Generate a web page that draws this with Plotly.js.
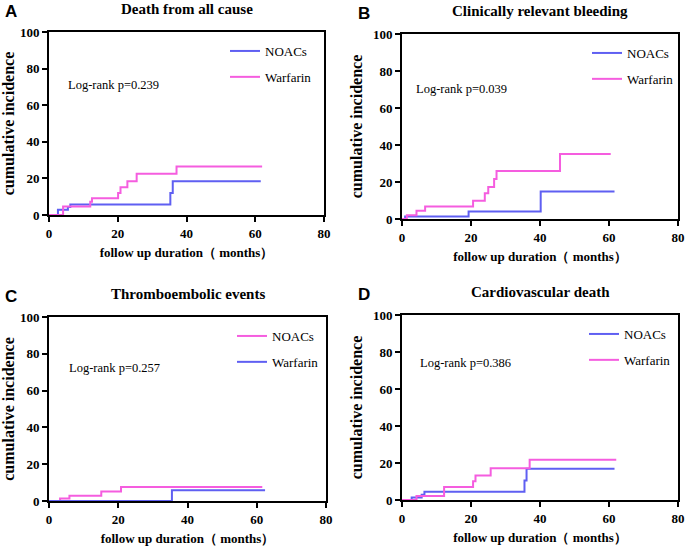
<!DOCTYPE html>
<html>
<head>
<meta charset="utf-8">
<script src="https://cdn.plot.ly/plotly-3.0.1.min.js"></script>
<style>
  html, body { margin: 0; padding: 0; background: #fff; }
  #plot { width: 685px; height: 547px; }
</style>
</head>
<body>
<div id="plot"></div>
<script>
// step-curve data (months, cumulative incidence %)

// A - Death from all cause
var aNoacT = [0, 2.6, 5.5, 6.2, 35.3, 36.0, 61.6];
var aNoacY = [0, 2.9, 4.4, 5.8, 12.0, 18.4, 18.4];
var aWarT = [0, 4.1, 12.0, 12.5, 20.1, 20.8, 22.8, 25.5, 37.1, 62.0];
var aWarY = [0, 4.7, 7.3, 9.1, 12.0, 15.1, 18.4, 22.5, 26.5, 26.5];

// B - Clinically relevant bleeding
var bNoacT = [0, 0.9, 19.3, 40.2, 61.6];
var bNoacY = [0, 1.3, 4.1, 14.8, 14.8];
var bWarT = [0, 1.4, 4.2, 6.7, 20.6, 24.0, 25.0, 26.7, 27.4, 45.8, 60.5];
var bWarY = [0, 2.0, 4.5, 6.7, 9.9, 13.9, 17.3, 21.6, 25.9, 35.1, 35.1];

// C - Thromboembolic events (legend colours swapped in the original)
var cNoacT = [0, 3.2, 5.9, 15.1, 20.8, 61.6];
var cNoacY = [0, 1.3, 2.9, 5.1, 7.6, 7.6];
var cWarT = [0, 35.5, 62.4];
var cWarY = [0, 5.8, 5.8];

// D - Cardiovascular death
var dNoacT = [0, 2.8, 5.7, 6.5, 35.5, 36.1, 61.6];
var dNoacY = [0, 1.3, 2.9, 4.5, 10.5, 16.9, 16.9];
var dWarT = [0, 4.2, 12.2, 20.6, 21.3, 25.7, 37.0, 62.1];
var dWarY = [0, 2.2, 7.0, 10.1, 13.2, 17.1, 21.8, 21.8];

var panelTitles = ["Death from all cause", "Clinically relevant bleeding", "Thromboembolic events", "Cardiovascular death"];
var panelLetters = ["A", "B", "C", "D"];
var pValues = ["Log-rank p=0.239", "Log-rank p=0.039", "Log-rank p=0.257", "Log-rank p=0.386"];

var blue = "#5f5ff2";
var pink = "#f55ddf";
var serif = "Liberation Serif";

function curve(t, y, name, color, n) {
  var sfx = n === 1 ? "" : String(n);
  return {
    x: t, y: y, name: name,
    type: "scatter", mode: "lines",
    line: {shape: "hv", color: color, width: 2},
    xaxis: "x" + sfx, yaxis: "y" + sfx,
    legend: "legend" + sfx,
    legendgroup: name + n
  };
}

var data = [
  curve(aNoacT, aNoacY, "NOACs", blue, 1),
  curve(aWarT, aWarY, "Warfarin", pink, 1),
  curve(bNoacT, bNoacY, "NOACs", blue, 2),
  curve(bWarT, bWarY, "Warfarin", pink, 2),
  curve(cNoacT, cNoacY, "NOACs", pink, 3),
  curve(cWarT, cWarY, "Warfarin", blue, 3),
  curve(dNoacT, dNoacY, "NOACs", blue, 4),
  curve(dWarT, dWarY, "Warfarin", pink, 4)
];

// plot areas in pixels: [left, right, top, bottom]
var boxes = [[49, 324, 32, 215], [402, 678, 34, 219], [49, 326, 317, 501], [402, 678, 315, 500]];
var W = 685, H = 547;

function xax(anchor, dom) {
  return {
    domain: dom, anchor: anchor, range: [0, 80], tickvals: [0, 20, 40, 60, 80],
    showgrid: false, zeroline: false, showline: true, mirror: true,
    linecolor: "#000", linewidth: 2, ticks: "outside", ticklen: 5, tickwidth: 2, tickcolor: "#000",
    tickfont: {family: serif, size: 13, color: "#000", weight: "bold"},
    title: {text: "follow up duration（ months）", standoff: 8,
            font: {family: serif, size: 13, color: "#000", weight: "bold"}}
  };
}
function yax(anchor, dom) {
  return {
    domain: dom, anchor: anchor, range: [0, 100], tickvals: [0, 20, 40, 60, 80, 100],
    showgrid: false, zeroline: false, showline: true, mirror: true,
    linecolor: "#000", linewidth: 2, ticks: "outside", ticklen: 5, tickwidth: 2, tickcolor: "#000",
    tickfont: {family: serif, size: 13, color: "#000", weight: "bold"},
    title: {text: "cumulative incidence", standoff: 6,
            font: {family: serif, size: 16, color: "#000", weight: "bold"}}
  };
}

var layout = {
  width: W, height: H,
  margin: {l: 0, r: 0, t: 0, b: 0},
  paper_bgcolor: "#fff", plot_bgcolor: "#fff",
  showlegend: true,
  annotations: [],
  font: {family: serif, color: "#000"}
};

var legendPos = [[225, 36], [587, 38], [232, 321], [584, 319]];
var pPos = [[66, 85], [414, 89], [67, 368], [418, 363]];

boxes.forEach(function (b, i) {
  var sfx = i === 0 ? "" : String(i + 1);
  var xd = [b[0] / W, b[1] / W];
  var yd = [1 - b[3] / H, 1 - b[2] / H];
  layout["xaxis" + sfx] = xax("y" + sfx, xd);
  layout["yaxis" + sfx] = yax("x" + sfx, yd);
  layout["legend" + sfx] = {
    x: legendPos[i][0] / W, y: 1 - legendPos[i][1] / H,
    xanchor: "left", yanchor: "top",
    bgcolor: "rgba(0,0,0,0)", borderwidth: 0,
    traceorder: "grouped", tracegroupgap: 6,
    font: {family: serif, size: 13, color: "#000"}
  };
  var midX = (b[0] + b[1]) / 2 / W;
  layout.annotations.push({
    text: panelTitles[i], xref: "paper", yref: "paper",
    x: midX, y: 1 - (b[2] - 23) / H, xanchor: "center", yanchor: "middle",
    showarrow: false, font: {family: serif, size: 15, weight: "bold", color: "#000"}
  });
  layout.annotations.push({
    text: panelLetters[i], xref: "paper", yref: "paper",
    x: (b[0] - 46) / W, y: 1 - (b[2] - 21) / H, xanchor: "left", yanchor: "middle",
    showarrow: false, font: {family: "Liberation Sans", size: 17, weight: "bold", color: "#000"}
  });
  layout.annotations.push({
    text: pValues[i], xref: "paper", yref: "paper",
    x: pPos[i][0] / W, y: 1 - pPos[i][1] / H, xanchor: "left", yanchor: "middle",
    showarrow: false, font: {family: serif, size: 12.5, color: "#000"}
  });
});

Plotly.newPlot("plot", data, layout, {displayModeBar: false, staticPlot: true});
</script>
</body>
</html>
